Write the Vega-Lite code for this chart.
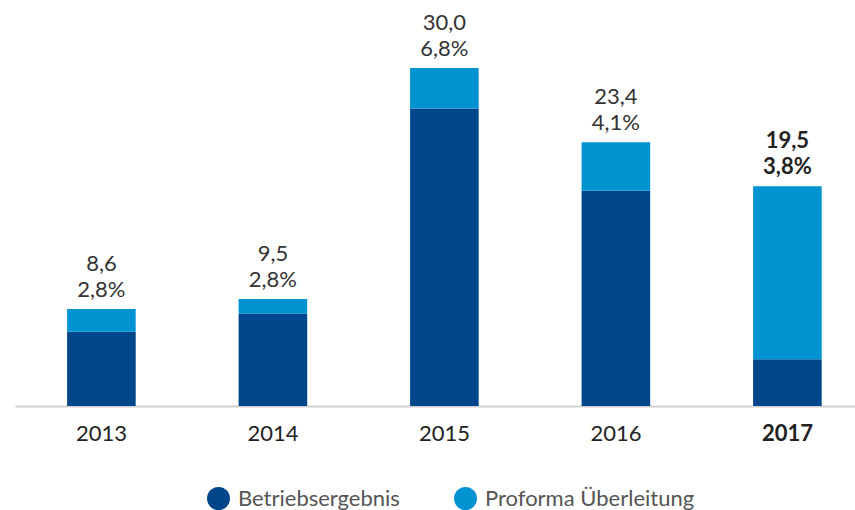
{
  "$schema": "https://vega.github.io/schema/vega-lite/v6.json",
  "width": 840,
  "height": 338,
  "autosize": {"type": "none"},
  "padding": {"left": 15, "top": 68, "right": 0, "bottom": 104},
  "background": "white",
  "config": {
    "view": {"stroke": null},
    "font": "Lato",
    "text": {"font": "Lato"}
  },
  "datasets": {
    "parts": [
      {"year": "2013", "series": "Betriebsergebnis", "value": 6.6},
      {"year": "2013", "series": "Proforma Überleitung", "value": 2.0},
      {"year": "2014", "series": "Betriebsergebnis", "value": 8.2},
      {"year": "2014", "series": "Proforma Überleitung", "value": 1.3},
      {"year": "2015", "series": "Betriebsergebnis", "value": 26.4},
      {"year": "2015", "series": "Proforma Überleitung", "value": 3.6},
      {"year": "2016", "series": "Betriebsergebnis", "value": 19.1},
      {"year": "2016", "series": "Proforma Überleitung", "value": 4.3},
      {"year": "2017", "series": "Betriebsergebnis", "value": 4.15},
      {"year": "2017", "series": "Proforma Überleitung", "value": 15.35}
    ],
    "totals": [
      {"year": "2013", "total": 8.6, "label": "8,6", "pct": "2,8%", "bold": false},
      {"year": "2014", "total": 9.5, "label": "9,5", "pct": "2,8%", "bold": false},
      {"year": "2015", "total": 30.0, "label": "30,0", "pct": "6,8%", "bold": false},
      {"year": "2016", "total": 23.4, "label": "23,4", "pct": "4,1%", "bold": false},
      {"year": "2017", "total": 19.5, "label": "19,5", "pct": "3,8%", "bold": true}
    ]
  },
  "encoding": {
    "x": {
      "field": "year",
      "type": "nominal",
      "scale": {"paddingInner": 0.6, "paddingOuter": 0.249, "align": 0.61},
      "axis": {
        "title": null,
        "ticks": false,
        "labelAngle": 0,
        "labelFontSize": 22,
        "labelColor": "#222222",
        "labelPadding": 17,
        "labelFont": "Lato",
        "labelFontWeight": {"condition": {"test": "datum.value == '2017'", "value": "bold"}, "value": "normal"},
        "domainColor": "#d0d0d0",
        "domainWidth": 2
      }
    }
  },
  "layer": [
    {
      "data": {"name": "parts"},
      "mark": {"type": "bar"},
      "encoding": {
        "y": {
          "field": "value",
          "type": "quantitative",
          "stack": "zero",
          "scale": {"domain": [0, 30], "nice": false},
          "axis": null
        },
        "order": {"field": "series", "sort": "ascending"},
        "color": {
          "field": "series",
          "type": "nominal",
          "scale": {
            "domain": ["Betriebsergebnis", "Proforma Überleitung"],
            "range": ["#00468a", "#0093d1"]
          },
          "legend": {
            "title": null,
            "orient": "none",
            "direction": "horizontal",
            "legendX": 192,
            "legendY": 419,
            "padding": 0,
            "symbolType": "circle",
            "symbolSize": 529,
            "symbolStrokeWidth": 0,
            "labelFontSize": 22,
            "labelColor": "#555555",
            "labelFont": "Lato",
            "labelOffset": 8,
            "labelLimit": 0,
            "columnPadding": 54
          }
        }
      }
    },
    {
      "data": {"name": "totals"},
      "transform": [{"filter": "!datum.bold"}],
      "mark": {"type": "text", "dy": -12, "baseline": "alphabetic", "fontSize": 22, "color": "#333333"},
      "encoding": {
        "y": {"field": "total", "type": "quantitative"},
        "text": {"field": "pct"}
      }
    },
    {
      "data": {"name": "totals"},
      "transform": [{"filter": "!datum.bold"}],
      "mark": {"type": "text", "dy": -38, "baseline": "alphabetic", "fontSize": 22, "color": "#333333"},
      "encoding": {
        "y": {"field": "total", "type": "quantitative"},
        "text": {"field": "label"}
      }
    },
    {
      "data": {"name": "totals"},
      "transform": [{"filter": "datum.bold"}],
      "mark": {"type": "text", "dy": -12, "baseline": "alphabetic", "fontSize": 22, "fontWeight": "bold", "color": "#222222"},
      "encoding": {
        "y": {"field": "total", "type": "quantitative"},
        "text": {"field": "pct"}
      }
    },
    {
      "data": {"name": "totals"},
      "transform": [{"filter": "datum.bold"}],
      "mark": {"type": "text", "dy": -38, "baseline": "alphabetic", "fontSize": 22, "fontWeight": "bold", "color": "#222222"},
      "encoding": {
        "y": {"field": "total", "type": "quantitative"},
        "text": {"field": "label"}
      }
    }
  ]
}
